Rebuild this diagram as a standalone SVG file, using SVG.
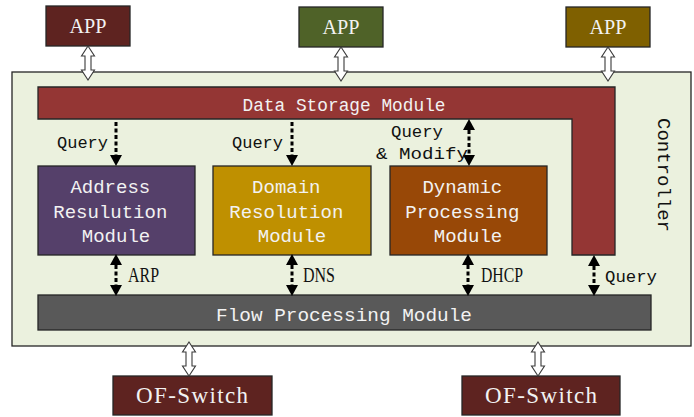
<svg xmlns="http://www.w3.org/2000/svg" xmlns:xlink="http://www.w3.org/1999/xlink" width="694" height="417" viewBox="0 0 694 417">
<style>
.box{stroke:#262626;stroke-width:1.3}
.mono{font-family:"Liberation Mono","DejaVu Sans Mono",monospace}
.serif{font-family:"Liberation Serif","Times New Roman",serif}
.wt{fill:#f2f2f2}
.bt{fill:#111}
.dash{stroke:#000;stroke-width:3;stroke-dasharray:4 2.5;fill:none}
.hollow{fill:#fff;stroke:#3a3a3a;stroke-width:1.1}
</style>
<defs>
<marker id="tri" markerUnits="userSpaceOnUse" markerWidth="11" markerHeight="12" refX="0" refY="5.5" orient="auto-start-reverse" viewBox="0 0 10 11">
<path d="M0,0 L10,5.5 L0,11 Z" fill="#000"/>
</marker>
<path id="harrow" d="M0,0 L6.5,10 L3,10 L3,24 L6.5,24 L0,34 L-6.5,24 L-3,24 L-3,10 L-6.5,10 Z"/>
</defs>

<g id="controller">
<rect x="12" y="72" width="679" height="274" fill="#ebf1de" class="box"/>
<text class="mono bt" font-size="19" transform="translate(658,175) rotate(90)" text-anchor="middle">Controller</text>
</g>

<g id="app1">
<rect x="46" y="6" width="84" height="40" fill="#5e2320" class="box"/>
<text class="serif wt" x="88" y="33" font-size="21" text-anchor="middle" textLength="37" lengthAdjust="spacingAndGlyphs">APP</text>
</g>
<g id="app2">
<rect x="299" y="7" width="84" height="40" fill="#4f6228" class="box"/>
<text class="serif wt" x="341" y="34" font-size="21" text-anchor="middle" textLength="37" lengthAdjust="spacingAndGlyphs">APP</text>
</g>
<g id="app3">
<rect x="566" y="7" width="84" height="40" fill="#7f6000" class="box"/>
<text class="serif wt" x="608" y="34" font-size="21" text-anchor="middle" textLength="37" lengthAdjust="spacingAndGlyphs">APP</text>
</g>

<g id="data-storage">
<path d="M38,87 L615,87 L615,255 L572,255 L572,119 L38,119 Z" fill="#943634" class="box"/>
<text class="mono wt" x="344" y="111" font-size="18" text-anchor="middle" textLength="203" lengthAdjust="spacingAndGlyphs">Data Storage Module</text>
</g>

<g id="address">
<rect x="38" y="166" width="157" height="89" fill="#55406a" class="box"/>
<text class="mono wt" font-size="19" text-anchor="middle">
<tspan x="116" y="193">Address</tspan>
<tspan x="116" y="218">Resulution</tspan>
<tspan x="116" y="242">Module</tspan>
</text>
</g>
<g id="domain">
<rect x="213" y="166" width="158" height="89" fill="#bf9000" class="box"/>
<text class="mono wt" font-size="19" text-anchor="middle">
<tspan x="292" y="193">Domain</tspan>
<tspan x="292" y="218">Resolution</tspan>
<tspan x="292" y="242">Module</tspan>
</text>
</g>
<g id="dynamic">
<rect x="390" y="166" width="157" height="89" fill="#984807" class="box"/>
<text class="mono wt" font-size="19" text-anchor="middle">
<tspan x="468" y="193">Dynamic</tspan>
<tspan x="468" y="218">Processing</tspan>
<tspan x="468" y="242">Module</tspan>
</text>
</g>

<g id="flow">
<rect x="38" y="295" width="613" height="35" fill="#595959" class="box"/>
<text class="mono wt" x="344" y="321" font-size="19" text-anchor="middle" textLength="256" lengthAdjust="spacingAndGlyphs">Flow Processing Module</text>
</g>

<g id="switch1">
<rect x="113" y="376" width="159" height="39" fill="#5e2320" class="box"/>
<text class="serif wt" x="192" y="403" font-size="23" text-anchor="middle" textLength="112" lengthAdjust="spacing">OF-Switch</text>
</g>
<g id="switch2">
<rect x="462" y="376" width="158" height="39" fill="#5e2320" class="box"/>
<text class="serif wt" x="541" y="403" font-size="23" text-anchor="middle" textLength="112" lengthAdjust="spacing">OF-Switch</text>
</g>

<g id="connectors">
<use xlink:href="#harrow" href="#harrow" class="hollow" transform="translate(88,46)"/>
<use xlink:href="#harrow" href="#harrow" class="hollow" transform="translate(341,47)"/>
<use xlink:href="#harrow" href="#harrow" class="hollow" transform="translate(608,47)"/>
<use xlink:href="#harrow" href="#harrow" class="hollow" transform="translate(189,342)"/>
<use xlink:href="#harrow" href="#harrow" class="hollow" transform="translate(538,342)"/>

<line class="dash" x1="116" y1="122" x2="116" y2="155" marker-end="url(#tri)"/>
<line class="dash" x1="292" y1="122" x2="292" y2="155" marker-end="url(#tri)"/>
<line class="dash" x1="469" y1="130" x2="469" y2="155" marker-start="url(#tri)" marker-end="url(#tri)"/>
<line class="dash" x1="116" y1="265" x2="116" y2="285" marker-start="url(#tri)" marker-end="url(#tri)"/>
<line class="dash" x1="292" y1="265" x2="292" y2="285" marker-start="url(#tri)" marker-end="url(#tri)"/>
<line class="dash" x1="468" y1="265" x2="468" y2="285" marker-start="url(#tri)" marker-end="url(#tri)"/>
<line class="dash" x1="594" y1="266" x2="594" y2="285" marker-start="url(#tri)" marker-end="url(#tri)"/>

<text class="mono bt" x="57" y="148" font-size="17" textLength="51" lengthAdjust="spacingAndGlyphs">Query</text>
<text class="mono bt" x="232" y="148" font-size="17" textLength="51" lengthAdjust="spacingAndGlyphs">Query</text>
<text class="mono bt" x="391" y="137" font-size="17" textLength="52" lengthAdjust="spacingAndGlyphs">Query</text>
<text class="mono bt" x="376" y="159" font-size="17" textLength="92" lengthAdjust="spacingAndGlyphs">&amp; Modify</text>
<text class="mono bt" x="605" y="282" font-size="17" textLength="52" lengthAdjust="spacingAndGlyphs">Query</text>
<text class="serif bt" x="128" y="282" font-size="20" textLength="31" lengthAdjust="spacingAndGlyphs">ARP</text>
<text class="serif bt" x="303" y="282" font-size="20" textLength="32" lengthAdjust="spacingAndGlyphs">DNS</text>
<text class="serif bt" x="481" y="282" font-size="20" textLength="42" lengthAdjust="spacingAndGlyphs">DHCP</text>
</g>
</svg>
